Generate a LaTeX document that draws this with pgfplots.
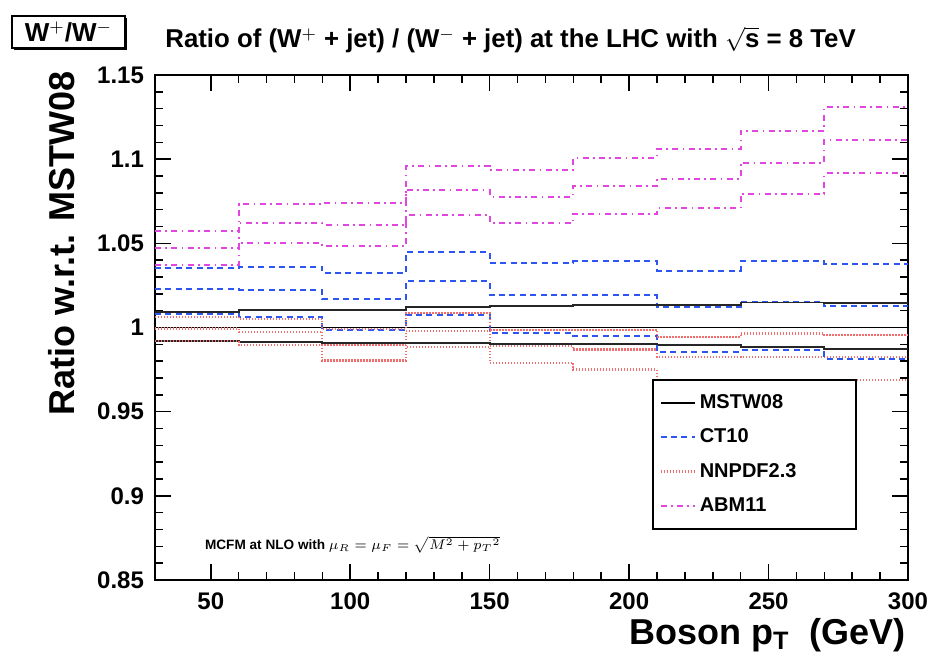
\documentclass[border=0pt]{standalone}
\usepackage{fontspec}
\setmainfont{Liberation Sans}
\usepackage{amsmath}
\usepackage{pgfplots}
\usepackage{pgfplotstable}
\pgfplotsset{compat=1.18}

\definecolor{ctblue}{RGB}{45,85,240}
\definecolor{nnred}{RGB}{240,110,110}
\definecolor{abmmag}{RGB}{225,70,225}

% bin left edges 30..270, last point repeated at 300
\pgfplotstableread{
x    mc   mup     mlo     cup     cc      clo     nup     nc      nlo     aup     ac      alo
30   1.0  1.0093  0.9922  1.0355  1.0226  1.0083  1.0063  0.9994  0.9920  1.0574  1.0475  1.0370
60   1.0  1.0105  0.9913  1.0360  1.0223  1.0063  1.0050  0.9974  0.9895  1.0731  1.0618  1.0503
90   1.0  1.0105  0.9910  1.0322  1.0169  0.9988  0.9990  0.9895  0.9804  1.0737  1.0610  1.0483
120  1.0  1.0122  0.9907  1.0449  1.0275  1.0073  1.0087  0.9980  0.9885  1.0958  1.0816  1.0671
150  1.0  1.0127  0.9903  1.0384  1.0196  0.9968  0.9986  0.9889  0.9790  1.0935  1.0778  1.0620
180  1.0  1.0132  0.9902  1.0393  1.0192  0.9948  0.9986  0.9869  0.9750  1.1008  1.0840  1.0673
210  1.0  1.0133  0.9895  1.0338  1.0121  0.9855  0.9944  0.9826  0.9680  1.1060  1.0883  1.0707
240  1.0  1.0148  0.9885  1.0393  1.0152  0.9865  0.9964  0.9825  0.9670  1.1168  1.0980  1.0796
270  1.0  1.0145  0.9872  1.0378  1.0125  0.9814  0.9955  0.9825  0.9687  1.1310  1.1113  1.0915
300  1.0  1.0145  0.9872  1.0378  1.0125  0.9814  0.9955  0.9825  0.9687  1.1310  1.1113  1.0915
}\ratios

\begin{document}
\begin{tikzpicture}
\path[use as bounding box] (0,0) rectangle (463.5pt,335.5pt);
\begin{axis}[
  at={(77.5pt,45.5pt)}, anchor=south west,
  scale only axis,
  width=376.5pt, height=252.5pt,
  xmin=30, xmax=300, ymin=0.85, ymax=1.15,
  xtick={50,100,150,200,250,300},
  ytick={0.85,0.9,0.95,1,1.05,1.1,1.15},
  minor x tick num=4, minor y tick num=4,
  tick align=inside,
  major tick length=8pt, minor tick length=4pt,
  axis line style={line width=1pt},
  every tick/.style={black, line width=0.8pt},
  /pgf/number format/assume math mode=true,
  tick label style={font=\fontsize{12}{14}\selectfont\bfseries},
  yticklabel style={/pgf/number format/fixed, xshift=-2pt},
  xticklabel style={yshift=-3pt},
  legend style={at={(0.932,0.099)}, anchor=south east, draw=black,
    line width=1pt, fill=white, font=\fontsize{10}{12}\selectfont\bfseries,
    row sep=4.6pt, inner ysep=5.5pt, inner xsep=3pt},
  legend cell align=left,
  const plot,
  clip=true,
]
\addplot[black, line width=0.9pt] table[x=x, y=mc] {\ratios};
\addlegendentry{\makebox[73pt][l]{MSTW08}}
\addplot[ctblue, line width=1pt, dash pattern=on 3pt off 2.2pt] table[x=x, y=cc] {\ratios};
\addlegendentry{\makebox[73pt][l]{CT10}}
\addplot[nnred, line width=1.1pt, dash pattern=on 0.6pt off 0.9pt] table[x=x, y=nc] {\ratios};
\addlegendentry{\makebox[73pt][l]{NNPDF2.3}}
\addplot[abmmag, line width=1pt, dash pattern=on 3pt off 2.2pt on 0.8pt off 2.2pt] table[x=x, y=ac] {\ratios};
\addlegendentry{\makebox[73pt][l]{ABM11}}

\addplot[forget plot, black!85, line width=0.9pt] table[x=x, y=mup] {\ratios};
\addplot[forget plot, black!85, line width=0.9pt] table[x=x, y=mlo] {\ratios};
\addplot[forget plot, ctblue, line width=1pt, dash pattern=on 3pt off 2.2pt] table[x=x, y=cup] {\ratios};
\addplot[forget plot, ctblue, line width=1pt, dash pattern=on 3pt off 2.2pt] table[x=x, y=clo] {\ratios};
\addplot[forget plot, nnred, line width=1.1pt, dash pattern=on 0.6pt off 0.9pt] table[x=x, y=nup] {\ratios};
\addplot[forget plot, nnred, line width=1.1pt, dash pattern=on 0.6pt off 0.9pt] table[x=x, y=nlo] {\ratios};
\addplot[forget plot, abmmag, line width=1pt, dash pattern=on 3pt off 2.2pt on 0.8pt off 2.2pt] table[x=x, y=aup] {\ratios};
\addplot[forget plot, abmmag, line width=1pt, dash pattern=on 3pt off 2.2pt on 0.8pt off 2.2pt] table[x=x, y=alo] {\ratios};

\node[anchor=west, font=\fontsize{6.8}{8}\selectfont\bfseries, inner sep=0pt]
  at (axis description cs:0.066,0.07)
  {MCFM at NLO with $\mu_R = \mu_F = \sqrt{M^2+{p_T}^{2}}$};
\end{axis}

% header box and title
\draw[line width=0.8pt] (6pt,311.5pt) rectangle (62.5pt,327.5pt);
\draw[line width=1.4pt] (7pt,311pt) -- (63pt,311pt) -- (63pt,326.5pt);
\node[font=\fontsize{13}{15}\selectfont\bfseries] at (34.2pt,319.5pt) {W$^{+}$/W$^{-}$};
\node[anchor=west, font=\fontsize{12.9}{15}\selectfont\bfseries, inner sep=0pt]
  at (82.5pt,315.5pt)
  {Ratio of (W$^{+}$ + jet) / (W$^{-}$ + jet) at the LHC with $\sqrt{\text{s}}$ = 8 TeV};

% axis titles
\node[rotate=90, anchor=east, font=\fontsize{18}{20}\selectfont\bfseries, inner sep=0pt]
  at (31pt,300pt) {Ratio w.r.t. MSTW08};
\node[anchor=east, font=\fontsize{18}{20}\selectfont\bfseries, inner sep=0pt]
  at (453pt,18pt) {Boson p$_{\text{T}}$\ \ (GeV)};
\end{tikzpicture}
\end{document}
